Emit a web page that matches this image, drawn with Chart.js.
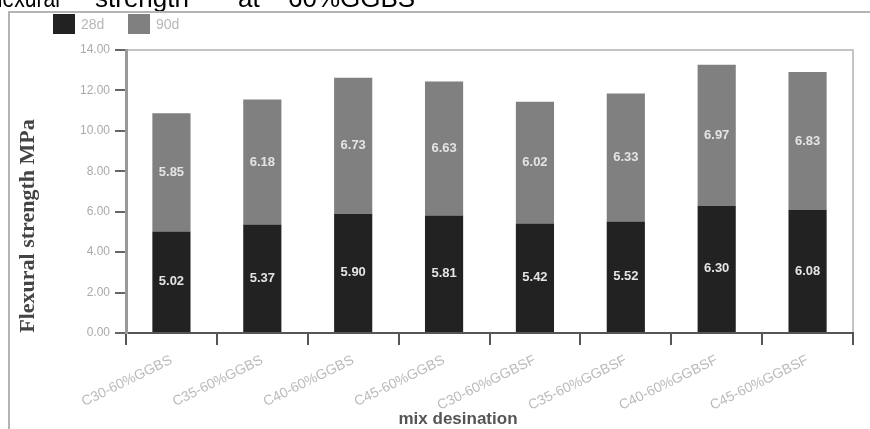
<!DOCTYPE html>
<html><head><meta charset="utf-8">
<script src="https://cdn.jsdelivr.net/npm/chart.js@4"></script>
<style>html,body{margin:0;padding:0;background:#fff}canvas{display:block}</style>
</head><body>
<canvas id="c" width="870" height="429"></canvas>
<script>
const categories = ["C30-60%GGBS","C35-60%GGBS","C40-60%GGBS","C45-60%GGBS","C30-60%GGBSF","C35-60%GGBSF","C40-60%GGBSF","C45-60%GGBSF"];
const seriesNames = ["28d","90d"];
const values28d = [5.02,5.37,5.90,5.81,5.42,5.52,6.30,6.08];
const values90d = [5.85,6.18,6.73,6.63,6.02,6.33,6.97,6.83];
const titleWords = ["flexural","strength","at","60%GGBS"];
const yTitle = "Flexural strength MPa";
const xTitle = "mix desination";

const decor = {
  id:'decor',
  beforeDraw(chart){
    const c = chart.ctx, a = chart.chartArea;
    c.save();
    c.fillStyle='#fff'; c.fillRect(0,0,chart.width,chart.height);
    // clipped title
    c.fillStyle='#000'; c.font='26px "Liberation Sans", Arial, sans-serif'; c.textBaseline='alphabetic';
    c.textAlign='left';
    c.fillText(titleWords[0],-8,7,68);
    c.fillText(titleWords[1],95,7);
    c.fillText(titleWords[2],238,7);
    c.fillText(titleWords[3],288,7);
    // outer frame
    c.strokeStyle='#b4b4b4'; c.lineWidth=2;
    c.beginPath(); c.moveTo(870,12); c.lineTo(9,12); c.lineTo(9,429); c.stroke();
    // plot frame top/right
    c.strokeStyle='#c4c4c4'; c.lineWidth=2;
    c.beginPath(); c.moveTo(a.left,a.top); c.lineTo(a.right,a.top); c.lineTo(a.right,a.bottom); c.stroke();
    // legend
    const ds = chart.data.datasets;
    const lx=[53,128];
    ds.forEach((d,i)=>{
      c.fillStyle=d.backgroundColor; c.fillRect(lx[i],14,22,20);
      c.fillStyle='#b8b8b8'; c.font='14px "Liberation Sans", Arial, sans-serif';
      c.textAlign='left'; c.textBaseline='middle';
      c.fillText(d.label,lx[i]+28,25);
    });
    // axis titles
    c.fillStyle='#444'; c.font='bold 22px "Liberation Serif", "DejaVu Serif", serif';
    c.textAlign='center'; c.textBaseline='middle';
    c.translate(28,226); c.rotate(-Math.PI/2); c.fillText(yTitle,0,0);
    c.setTransform(1,0,0,1,0,0);
    c.fillStyle='#555'; c.font='bold 17px "Liberation Sans", Arial, sans-serif';
    c.fillText(xTitle,458,419);
    c.restore();
  },
  afterDatasetsDraw(chart){
    const c = chart.ctx;
    c.save();
    c.font='bold 13px "Liberation Sans", Arial, sans-serif';
    c.textAlign='center'; c.textBaseline='middle';
    chart.data.datasets.forEach((d,i)=>{
      chart.getDatasetMeta(i).data.forEach((el,j)=>{
        const p = el.getProps(['x','y','base'],true);
        c.fillStyle='#e4e4e4';
        c.fillText(d.data[j].toFixed(2),p.x,(p.y+p.base)/2);
      });
    });
    c.restore();
  }
};

new Chart(document.getElementById('c'),{
  type:'bar',
  data:{
    labels:categories,
    datasets:[
      {label:seriesNames[0],data:values28d,backgroundColor:'#222222',barPercentage:0.42,categoryPercentage:1},
      {label:seriesNames[1],data:values90d,backgroundColor:'#808080',barPercentage:0.42,categoryPercentage:1}
    ]
  },
  options:{
    responsive:false,animation:false,
    layout:{padding:{left:0,top:50,right:17,bottom:0}},
    plugins:{legend:{display:false},tooltip:{enabled:false},title:{display:false}},
    scales:{
      x:{stacked:true,
        afterFit(s){s.height=96;},
        grid:{offset:true,drawOnChartArea:false,tickLength:12,color:'#555',lineWidth:2},
        border:{color:'#555',width:2},
        ticks:{color:'#bbb',font:{size:14,family:'"Liberation Sans", Arial, sans-serif'},minRotation:26,maxRotation:26,padding:7}
      },
      y:{stacked:true,min:0,max:14,
        afterFit(s){s.width=126;},
        grid:{drawOnChartArea:false,tickLength:11,color:'#666',lineWidth:2},
        border:{color:'#999',width:3},
        ticks:{stepSize:2,color:'#aaa',padding:5,font:{size:12,family:'"Liberation Sans", Arial, sans-serif'},callback:v=>Number(v).toFixed(2)}
      }
    }
  },
  plugins:[decor]
});
</script>
</body></html>
